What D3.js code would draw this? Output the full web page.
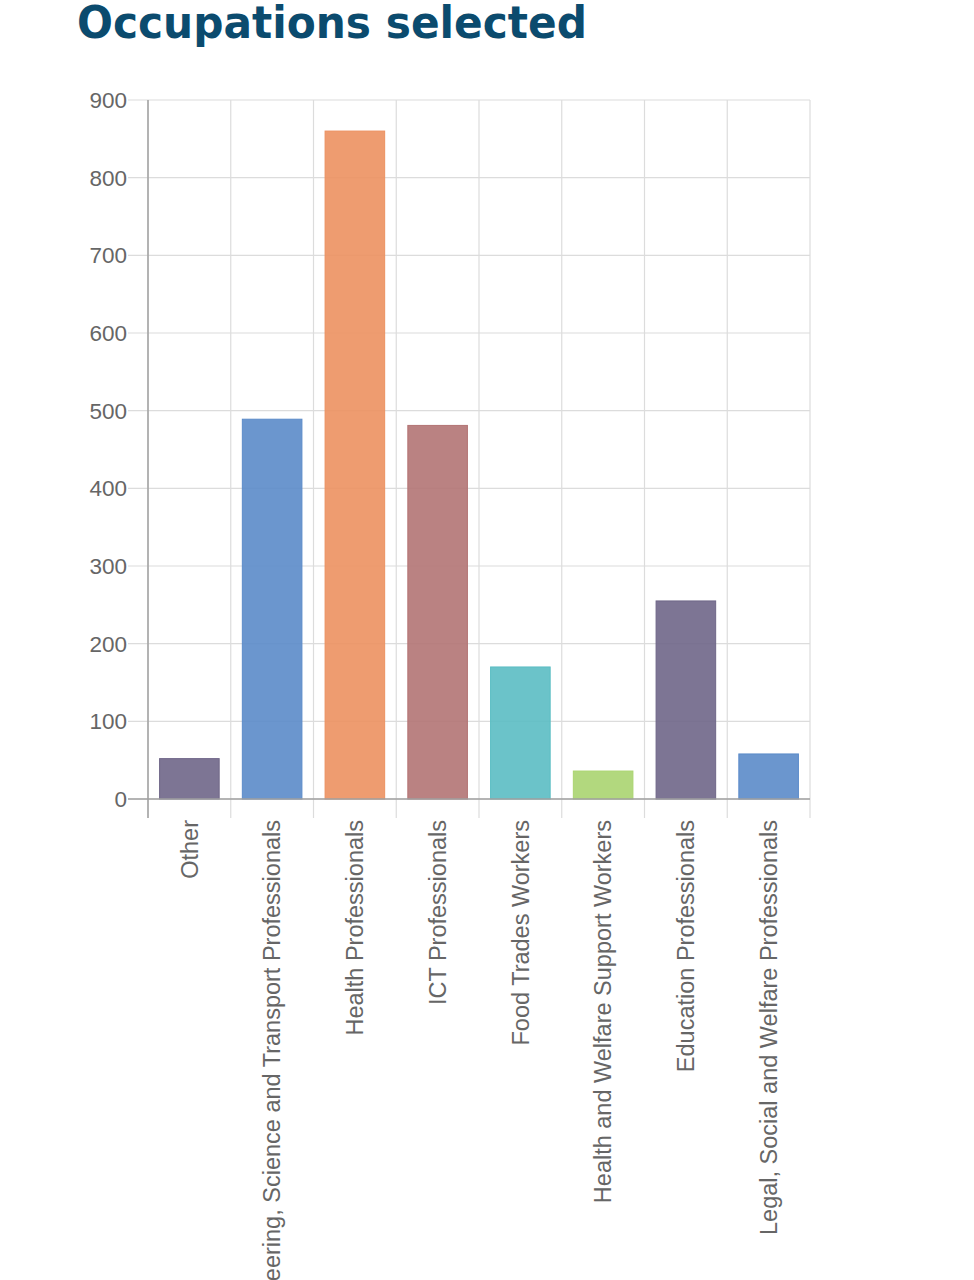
<!DOCTYPE html>
<html>
<head>
<meta charset="utf-8">
<script src="https://cdn.jsdelivr.net/npm/d3@7"></script>
<style>
  body { margin: 0; background: #fff; }
</style>
</head>
<body>
<svg width="974" height="1280"></svg>
<script>
const occupations = [
  "Other",
  "Engineering, Science and Transport Professionals",
  "Health Professionals",
  "ICT Professionals",
  "Food Trades Workers",
  "Health and Welfare Support Workers",
  "Education Professionals",
  "Legal, Social and Welfare Professionals"
];
const counts = [52, 489, 860, 481, 170, 36, 255, 58];
const barColors = ["#6f6688", "#5b8bc9", "#ec9160", "#b37474", "#5bbdc3", "#aad470", "#6f6688", "#5b8bc9"];
const yTicks = [0, 100, 200, 300, 400, 500, 600, 700, 800, 900];

const margin = {top: 100, left: 148},
      width = 810 - 148,
      height = 799 - 100;

const root = d3.select("svg");

root.append("text")
    .attr("x", 77)
    .attr("y", 38)
    .attr("textLength", 510)
    .attr("lengthAdjust", "spacingAndGlyphs")
    .style("font-family", "DejaVu Sans, sans-serif")
    .style("font-weight", "bold")
    .style("font-size", "44px")
    .style("fill", "#0b4b6e")
    .text("Occupations selected");

const svg = root.append("g")
    .attr("transform", `translate(${margin.left},${margin.top})`);

const x = d3.scaleBand()
    .domain(occupations)
    .range([0, width])
    .padding(0);

const y = d3.scaleLinear()
    .domain([0, 900])
    .range([height, 0]);

// horizontal grid
svg.append("g")
    .selectAll("line")
    .data(yTicks)
    .enter().append("line")
    .attr("x1", -20)
    .attr("x2", width)
    .attr("y1", d => y(d))
    .attr("y2", d => y(d))
    .style("stroke", "#dcdcdc")
    .style("stroke-width", 1.2);

// vertical grid at band edges
const edges = occupations.map(d => x(d)).concat([width]);
svg.append("g")
    .selectAll("line")
    .data(edges)
    .enter().append("line")
    .attr("x1", d => d)
    .attr("x2", d => d)
    .attr("y1", 0)
    .attr("y2", height + 19)
    .style("stroke", "#dcdcdc")
    .style("stroke-width", 1.2);

// y tick labels
svg.append("g")
    .selectAll("text")
    .data(yTicks)
    .enter().append("text")
    .attr("x", -21)
    .attr("y", d => y(d))
    .attr("dy", "0.35em")
    .style("text-anchor", "end")
    .style("font-family", "Liberation Sans, Arial, sans-serif")
    .style("font-size", "22.5px")
    .style("fill", "#666")
    .text(d => d);

// bars
const barW = x.bandwidth() * 0.72;
svg.append("g")
    .selectAll("rect")
    .data(occupations)
    .enter().append("rect")
    .attr("x", d => x(d) + (x.bandwidth() - barW) / 2)
    .attr("width", barW)
    .attr("y", (d, i) => y(counts[i]))
    .attr("height", (d, i) => height - y(counts[i]))
    .style("fill", (d, i) => barColors[i])
    .style("fill-opacity", 0.9)
    .style("stroke", (d, i) => barColors[i])
    .style("stroke-width", 1);

// axis lines
svg.append("line")
    .attr("x1", 0).attr("x2", 0)
    .attr("y1", 0).attr("y2", height + 19)
    .style("stroke", "#a0a0a0").style("stroke-width", 1.5);
svg.append("line")
    .attr("x1", -20).attr("x2", width)
    .attr("y1", height).attr("y2", height)
    .style("stroke", "#a0a0a0").style("stroke-width", 1.5);

// x labels, rotated
svg.append("g")
    .selectAll("text")
    .data(occupations)
    .enter().append("text")
    .attr("transform", d => `translate(${x(d) + x.bandwidth() / 2},${height + 21}) rotate(-90)`)
    .attr("dy", "0.35em")
    .style("text-anchor", "end")
    .style("font-family", "Liberation Sans, Arial, sans-serif")
    .style("font-size", "23.5px")
    .style("fill", "#666")
    .text(d => d);
</script>
</body>
</html>
